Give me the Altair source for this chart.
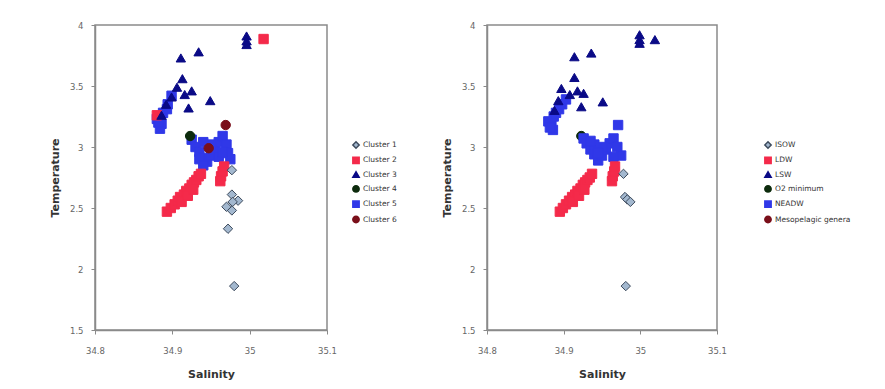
import altair as alt
import pandas as pd

# ---------------- Left panel: clusters ----------------
c1_sal = [34.977, 34.977, 34.985, 34.978, 34.977, 34.970, 34.972, 34.980]
c1_temp = [2.81, 2.61, 2.56, 2.55, 2.48, 2.51, 2.33, 1.86]

c2_sal = [34.893, 34.898, 34.903, 34.907, 34.910, 34.915, 34.918, 34.922, 34.925, 34.928,
          34.931, 34.934, 34.937, 34.912, 34.920, 34.927, 34.962, 34.963, 34.965, 34.967,
          35.018, 34.880]
c2_temp = [2.47, 2.50, 2.53, 2.56, 2.59, 2.61, 2.64, 2.66, 2.69, 2.71,
           2.73, 2.76, 2.78, 2.55, 2.60, 2.65, 2.72, 2.76, 2.80, 2.84,
           3.885, 3.26]

c3_sal = [34.996, 34.996, 34.996, 34.911, 34.934, 34.913, 34.906, 34.925, 34.949, 34.921,
          34.916, 34.899, 34.892, 34.886]
c3_temp = [3.91, 3.87, 3.84, 3.73, 3.78, 3.56, 3.49, 3.46, 3.38, 3.32,
           3.43, 3.41, 3.35, 3.26]

c4_sal = [34.923]
c4_temp = [3.09]

c5_sal = [34.884, 34.880, 34.888, 34.894, 34.899, 34.886, 34.893, 34.882,
          34.925, 34.930, 34.935, 34.940, 34.945, 34.950, 34.955, 34.960, 34.965, 34.970,
          34.972, 34.975, 34.960, 34.950, 34.940, 34.935, 34.965, 34.940]
c5_temp = [3.15, 3.23, 3.28, 3.35, 3.42, 3.19, 3.31, 3.20,
           3.06, 3.00, 2.96, 2.91, 2.88, 2.93, 2.98, 3.04, 3.09, 3.02,
           2.95, 2.90, 2.92, 3.02, 3.04, 2.90, 2.96, 2.85]

c6_sal = [34.969, 34.947]
c6_temp = [3.18, 2.99]

# ---------------- Right panel: water masses ----------------
isow_sal = [34.978, 34.980, 34.983, 34.987, 34.981]
isow_temp = [2.78, 2.59, 2.57, 2.55, 1.86]

ldw_sal = [34.895, 34.899, 34.903, 34.907, 34.911, 34.915, 34.918, 34.922, 34.925, 34.928,
           34.931, 34.934, 34.937, 34.912, 34.920, 34.927, 34.963, 34.964, 34.966, 34.967]
ldw_temp = [2.47, 2.50, 2.53, 2.56, 2.59, 2.61, 2.64, 2.66, 2.69, 2.71,
            2.73, 2.75, 2.78, 2.55, 2.60, 2.65, 2.72, 2.76, 2.80, 2.84]

lsw_sal = [34.999, 34.999, 34.999, 35.019, 34.914, 34.936, 34.914, 34.897, 34.926, 34.951,
           34.923, 34.908, 34.918, 34.893, 34.888]
lsw_temp = [3.92, 3.88, 3.85, 3.88, 3.74, 3.77, 3.57, 3.48, 3.44, 3.37,
            3.33, 3.43, 3.46, 3.38, 3.30]

o2_sal = [34.923]
o2_temp = [3.09]

neadw_sal = [34.884, 34.880, 34.887, 34.890, 34.894, 34.898, 34.903, 34.886, 34.882,
             34.926, 34.930, 34.935, 34.940, 34.945, 34.950, 34.955, 34.960, 34.965,
             34.970, 34.975, 34.965, 34.950, 34.940, 34.945, 34.935, 34.971]
neadw_temp = [3.18, 3.21, 3.25, 3.28, 3.31, 3.35, 3.39, 3.14, 3.16,
              3.07, 3.03, 2.98, 2.94, 2.89, 2.93, 2.98, 3.03, 3.07,
              3.00, 2.93, 2.92, 3.00, 3.02, 2.95, 3.05, 3.18]

meso_sal = [34.947]
meso_temp = [2.99]

left_groups = ["Cluster 1", "Cluster 2", "Cluster 3", "Cluster 4", "Cluster 5", "Cluster 6"]
right_groups = ["ISOW", "LDW", "LSW", "O2 minimum", "NEADW", "Mesopelagic genera"]

fills = ["#a3b8cf", "#f42a4a", "#0a0a86", "#0d2b0d", "#3038e8", "#7a0f1a"]
strokes = ["#3d4a5c", "#f42a4a", "#0a0a86", "#0d2b0d", "#3038e8", "#7a0f1a"]
shapes = ["diamond", "square", "triangle-up", "circle", "square", "circle"]


def frame(pairs):
    rows = []
    for name, sal, temp in pairs:
        for s, t in zip(sal, temp):
            rows.append({"sal": s, "temp": t, "group": name})
    return pd.DataFrame(rows)


left_df = frame([
    ("Cluster 5", c5_sal, c5_temp),
    ("Cluster 2", c2_sal, c2_temp),
    ("Cluster 1", c1_sal, c1_temp),
    ("Cluster 3", c3_sal, c3_temp),
    ("Cluster 4", c4_sal, c4_temp),
    ("Cluster 6", c6_sal, c6_temp),
])

right_df = frame([
    ("O2 minimum", o2_sal, o2_temp),
    ("Mesopelagic genera", meso_sal, meso_temp),
    ("NEADW", neadw_sal, neadw_temp),
    ("LDW", ldw_sal, ldw_temp),
    ("ISOW", isow_sal, isow_temp),
    ("LSW", lsw_sal, lsw_temp),
])


def panel(df, domain, width, legend_x):
    legend = alt.Legend(
        title=None, orient="none", legendX=legend_x, legendY=116,
        labelFontSize=7.5, labelColor="#333", labelFont="DejaVu Sans",
        symbolSize=40, rowPadding=1.3, padding=0, labelOffset=3,
    )
    return alt.Chart(df).mark_point(filled=True, size=88, opacity=1, strokeWidth=1).encode(
        x=alt.X("sal:Q", title="Salinity",
                scale=alt.Scale(domain=[34.8, 35.1], nice=False, zero=False),
                axis=alt.Axis(values=[34.8, 34.9, 35.0, 35.1], format="~g",
                              labelPadding=12, titlePadding=14, labelFlush=False)),
        y=alt.Y("temp:Q", title="Temperature",
                scale=alt.Scale(domain=[1.5, 4.0], nice=False, zero=False),
                axis=alt.Axis(values=[1.5, 2.0, 2.5, 3.0, 3.5, 4.0], format="~g",
                              labelPadding=8, titlePadding=9, labelFlush=False)),
        color=alt.Color("group:N", scale=alt.Scale(domain=domain, range=fills), legend=legend),
        shape=alt.Shape("group:N", scale=alt.Scale(domain=domain, range=shapes), legend=legend),
        stroke=alt.Stroke("group:N", scale=alt.Scale(domain=domain, range=strokes), legend=None),
    ).properties(width=width, height=305)


left = panel(left_df, left_groups, 232, 257)
right = panel(right_df, right_groups, 230, 277)

chart = alt.hconcat(left, right, spacing=160, bounds="flush").resolve_scale(
    color="independent", shape="independent", stroke="independent"
).properties(
    padding={"left": 40, "top": 12, "right": 5, "bottom": 5},
    background="white",
).configure_view(
    stroke="#8a8a8a", strokeWidth=1.5
).configure_axis(
    grid=False, domainColor="#8a8a8a", domainWidth=1.5, tickColor="#8a8a8a",
    tickSize=4, labelFontSize=8.5, labelColor="#666", labelFont="DejaVu Sans",
    titleFontSize=11, titleFont="DejaVu Sans", titleFontWeight="bold", titleColor="#333",
)

chart.save("out.html", embed_options={"renderer": "svg", "actions": False})
